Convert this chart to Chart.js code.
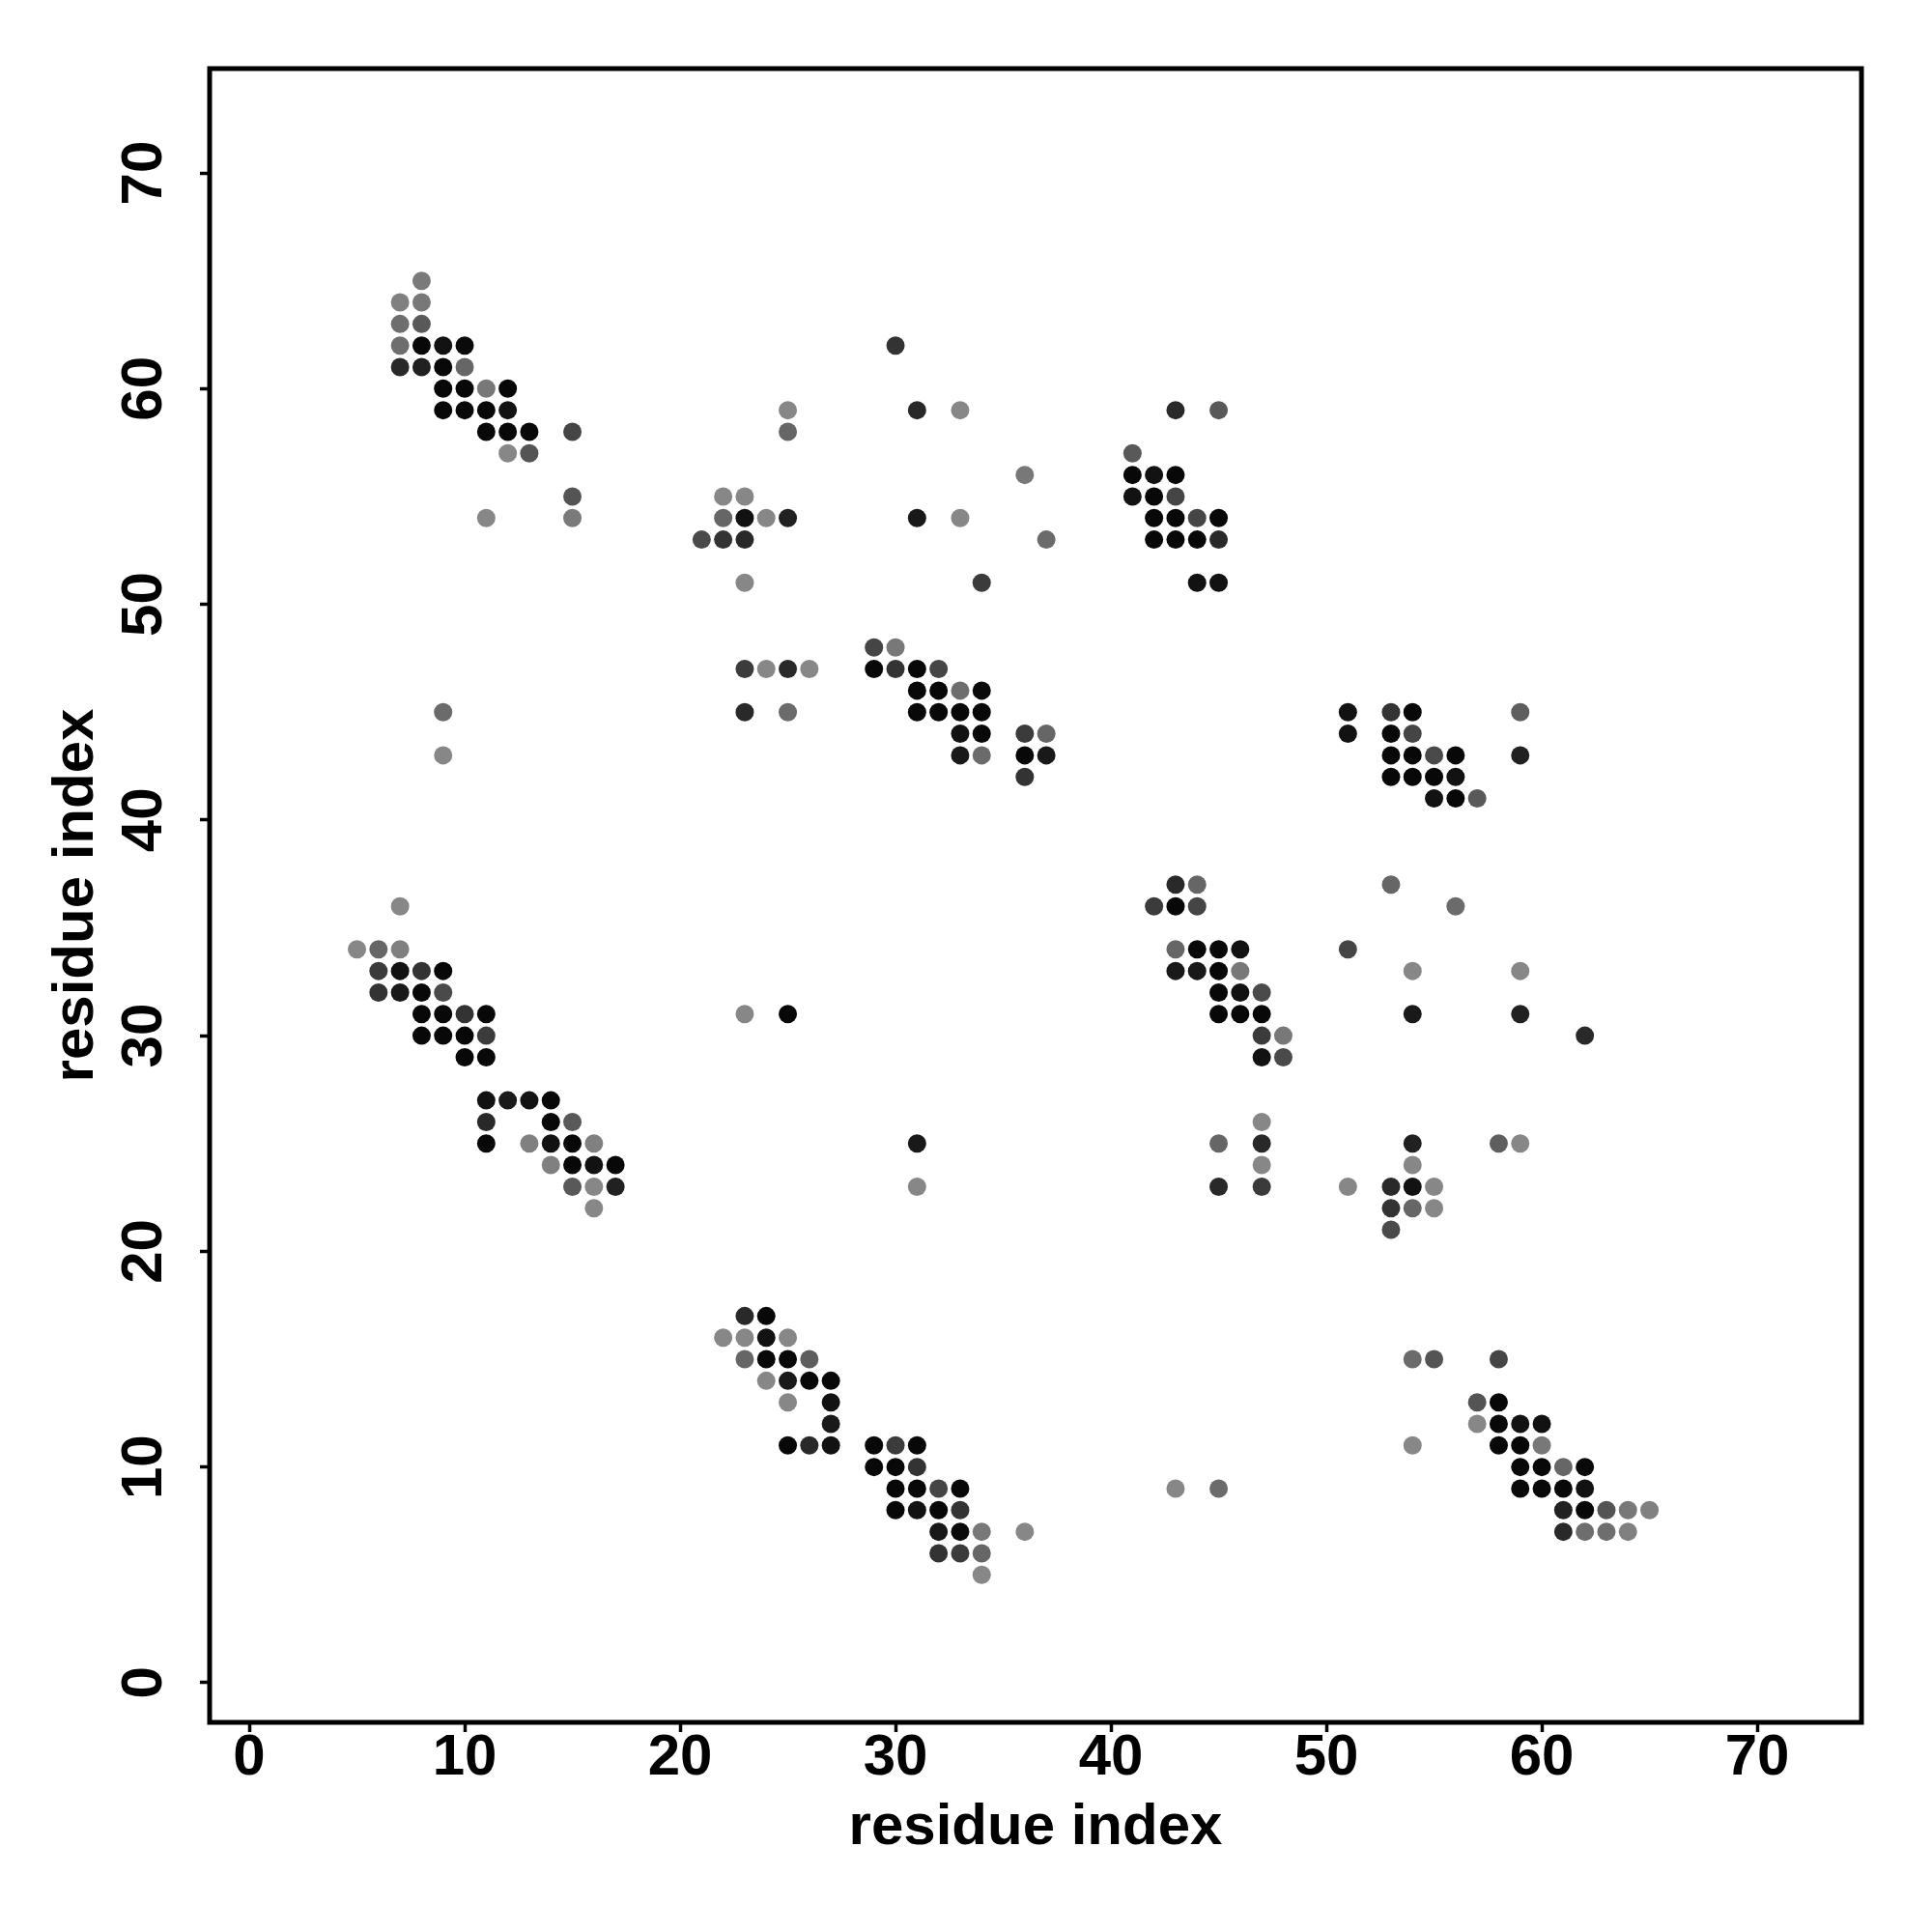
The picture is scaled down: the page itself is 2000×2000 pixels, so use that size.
<!DOCTYPE html>
<html>
<head>
<meta charset="utf-8">
<title>residue contact map</title>
<script src="https://cdn.jsdelivr.net/npm/chart.js"></script>
<style>
  html, body { margin: 0; padding: 0; background: #fff; }
  canvas { display: block; }
</style>
</head>
<body>
<canvas id="contactMap" width="2000" height="2000"></canvas>
<script>
// contacts as [residue i, residue j, score]; score sets the gray level
const helixTop = [
  [8,65,0.52],[7,64,0.5],[8,64,0.53],[7,63,0.57],[8,63,0.65],[7,62,0.57],[8,62,0.97],[9,62,0.93],
  [10,62,0.96],[7,61,0.84],[8,61,0.87],[9,61,0.97],[10,61,0.6],[9,60,0.97],[10,60,0.97],[11,60,0.53],
  [12,60,0.97],[9,59,0.97],[10,59,0.97],[11,59,0.97],[12,59,0.93],[11,58,0.97],[12,58,0.97],[13,58,0.97],
  [15,58,0.73],[12,57,0.47],[13,57,0.67],[15,55,0.67],[11,54,0.47],[15,54,0.52]
];
const midTop = [
  [25,59,0.47],[31,59,0.84],[33,59,0.47],[30,62,0.8],[25,58,0.6],[36,56,0.53],[22,55,0.47],[23,55,0.47],
  [22,54,0.6],[23,54,0.93],[24,54,0.47],[25,54,0.87],[31,54,0.9],[33,54,0.47],[21,53,0.71],[22,53,0.8],
  [23,53,0.84],[37,53,0.58],[23,51,0.47],[34,51,0.77]
];
const midCenter = [
  [29,48,0.73],[30,48,0.53],[23,47,0.77],[24,47,0.47],[25,47,0.84],[26,47,0.47],[29,47,0.97],[30,47,0.8],
  [31,47,0.97],[32,47,0.73],[31,46,0.97],[32,46,0.97],[33,46,0.57],[34,46,0.96],[23,45,0.84],[25,45,0.58],
  [31,45,0.97],[32,45,0.97],[33,45,0.97],[34,45,0.97],[33,44,0.93],[34,44,0.97],[36,44,0.77],[37,44,0.6],
  [33,43,0.9],[34,43,0.58],[36,43,0.97],[37,43,0.9],[36,42,0.8],[9,45,0.58],[9,43,0.47]
];
const rightTop = [
  [43,59,0.84],[45,59,0.65],[41,57,0.65],[41,56,0.97],[42,56,0.93],[43,56,0.97],[41,55,0.93],[42,55,0.97],
  [43,55,0.73],[42,54,0.97],[43,54,0.97],[44,54,0.73],[45,54,0.97],[42,53,0.97],[43,53,0.97],[44,53,0.97],
  [45,53,0.84],[44,51,0.93],[45,51,0.93]
];
const farRight = [
  [51,45,0.93],[53,45,0.8],[54,45,0.97],[59,45,0.63],[51,44,0.93],[53,44,0.97],[54,44,0.73],[53,43,0.97],
  [54,43,0.97],[55,43,0.71],[56,43,0.97],[59,43,0.87],[53,42,0.97],[54,42,0.97],[55,42,0.97],[56,42,0.93],
  [55,41,0.93],[56,41,0.97],[57,41,0.65]
];
const helixMid = [
  [7,36,0.47],[5,34,0.47],[6,34,0.6],[7,34,0.5],[6,33,0.77],[7,33,0.93],[8,33,0.8],[9,33,0.97],
  [6,32,0.8],[7,32,0.9],[8,32,0.97],[9,32,0.71],[8,31,0.97],[9,31,0.97],[10,31,0.8],[11,31,0.97],
  [8,30,0.97],[9,30,0.97],[10,30,0.97],[11,30,0.77],[10,29,0.97],[11,29,0.97],[11,27,0.93],[12,27,0.9],
  [13,27,0.93],[14,27,0.97],[11,26,0.84],[14,26,0.97],[15,26,0.65],[11,25,0.97],[13,25,0.5],[14,25,0.93],
  [15,25,0.97],[16,25,0.5],[14,24,0.5],[15,24,0.97],[16,24,0.93],[17,24,0.97],[15,23,0.65],[16,23,0.47],
  [17,23,0.87],[16,22,0.47]
];
const rightMid = [
  [43,37,0.84],[44,37,0.6],[42,36,0.77],[43,36,0.97],[44,36,0.73],[43,34,0.6],[44,34,0.97],[45,34,0.97],
  [46,34,0.93],[43,33,0.9],[44,33,0.9],[45,33,0.97],[46,33,0.53],[45,32,0.97],[46,32,0.93],[47,32,0.71],
  [45,31,0.97],[46,31,0.97],[47,31,0.97],[47,30,0.77],[48,30,0.53],[47,29,0.93],[48,29,0.71]
];
const scattered = [
  [53,37,0.6],[56,36,0.58],[51,34,0.73],[54,33,0.47],[59,33,0.47],[54,31,0.9],[59,31,0.87],[62,30,0.84],
  [54,25,0.87],[58,25,0.63],[59,25,0.47],[54,24,0.47],[51,23,0.47],[53,23,0.84],[54,23,0.93],[55,23,0.47],
  [53,22,0.8],[54,22,0.6],[55,22,0.47],[53,21,0.71],[47,26,0.47],[45,25,0.6],[47,25,0.84],[47,24,0.47],
  [45,23,0.84],[47,23,0.77],[23,31,0.47],[25,31,0.97],[31,25,0.9],[31,23,0.47]
];
const helixLow = [
  [23,17,0.84],[24,17,0.97],[22,16,0.47],[23,16,0.47],[24,16,0.93],[25,16,0.47],[23,15,0.6],[24,15,0.97],
  [25,15,0.97],[26,15,0.63],[24,14,0.47],[25,14,0.9],[26,14,0.97],[27,14,0.97],[25,13,0.47],[27,13,0.93],
  [27,12,0.9],[25,11,0.97],[26,11,0.84],[27,11,0.93],[29,11,0.97],[30,11,0.77],[31,11,0.97],[29,10,0.97],
  [30,10,0.97],[31,10,0.8],[30,9,0.97],[31,9,0.97],[32,9,0.73],[33,9,0.97],[30,8,0.97],[31,8,0.93],
  [32,8,0.97],[33,8,0.8],[32,7,0.9],[33,7,0.96],[34,7,0.53],[32,6,0.8],[33,6,0.77],[34,6,0.6],
  [34,5,0.47],[36,7,0.47]
];
const rightLow = [
  [54,15,0.58],[55,15,0.67],[58,15,0.73],[57,13,0.67],[58,13,0.97],[57,12,0.47],[58,12,0.97],[59,12,0.93],
  [60,12,0.93],[54,11,0.47],[58,11,0.97],[59,11,0.97],[60,11,0.53],[59,10,0.97],[60,10,0.97],[61,10,0.6],
  [62,10,0.96],[59,9,0.97],[60,9,0.97],[61,9,0.97],[62,9,0.93],[61,8,0.87],[62,8,0.97],[63,8,0.67],
  [64,8,0.53],[65,8,0.5],[61,7,0.84],[62,7,0.57],[63,7,0.57],[64,7,0.5],[43,9,0.47],[45,9,0.58]
];
const tickValues = [0, 10, 20, 30, 40, 50, 60, 70];
const axisTitle = "residue index";

const contacts = [].concat(helixTop, midTop, midCenter, rightTop, farRight,
  helixMid, rightMid, scattered, helixLow, rightLow)
  .map(c => ({ x: c[0], y: c[1], p: c[2] }));

function grayOf(p) {
  const g = Math.round(255 * (1 - p));
  return "rgb(" + g + "," + g + "," + g + ")";
}

const labelFont = { family: "Liberation Sans", weight: "bold", size: 60, lineHeight: 1 };

const framePlugin = {
  id: "frame",
  afterDraw(chart) {
    const { ctx, chartArea: a } = chart;
    ctx.save();
    ctx.strokeStyle = "#000";
    ctx.lineWidth = 5;
    ctx.strokeRect(a.left, a.top, a.right - a.left, a.bottom - a.top);
    ctx.restore();
  }
};

function axis(isY) {
  return {
    type: "linear",
    min: -1.84,
    max: 74.84,
    afterBuildTicks: s => { s.ticks = tickValues.map(v => ({ value: v })); },
    afterFit: s => { if (isY) s.width = 217; else s.height = 217; },
    border: { display: false },
    grid: { drawOnChartArea: false, drawTicks: true, tickLength: 10, tickWidth: 3.5, tickColor: "#000" },
    ticks: isY
      ? { color: "#000", font: labelFont, minRotation: 90, maxRotation: 90, crossAlign: "center", padding: 23 }
      : { color: "#000", font: labelFont, maxRotation: 0, autoSkip: false, padding: -3 },
    title: {
      display: true,
      text: axisTitle,
      color: "#000",
      font: labelFont,
      padding: isY ? { top: 49, bottom: 0 } : { top: 0, bottom: 78 }
    }
  };
}

new Chart(document.getElementById("contactMap").getContext("2d"), {
  type: "scatter",
  data: {
    datasets: [{
      data: contacts,
      pointRadius: 9.5,
      pointHoverRadius: 9.5,
      borderWidth: 0,
      backgroundColor: ctx => grayOf(ctx.raw.p)
    }]
  },
  options: {
    responsive: false,
    animation: false,
    devicePixelRatio: 1,
    layout: { padding: { top: 71, right: 73, bottom: 0, left: 0 } },
    plugins: { legend: { display: false }, tooltip: { enabled: false } },
    scales: { x: axis(false), y: axis(true) }
  },
  plugins: [framePlugin]
});
</script>
</body>
</html>
